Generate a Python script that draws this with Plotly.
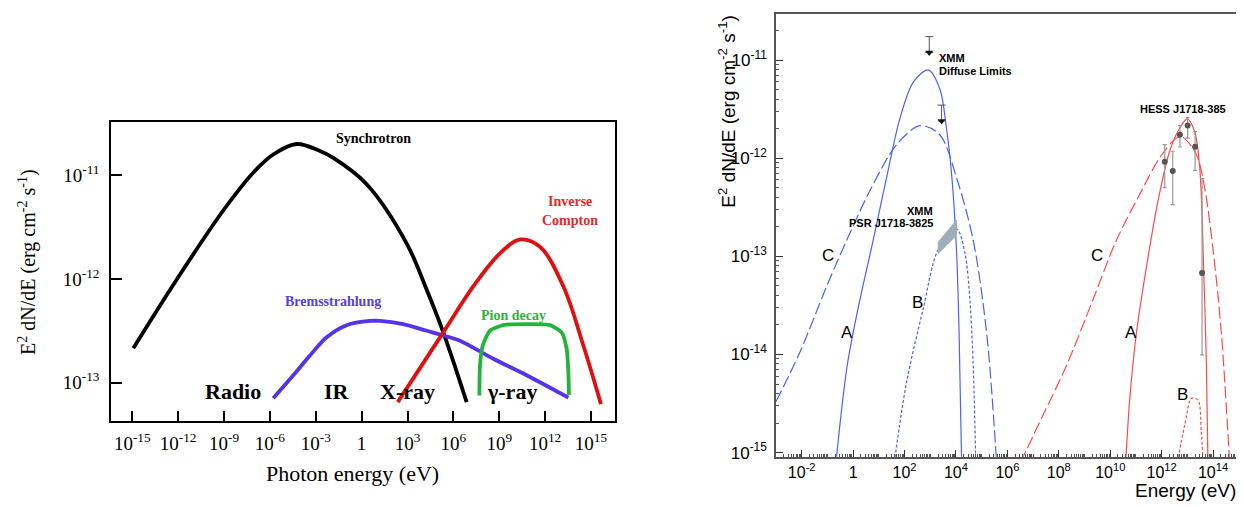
import numpy as np
import plotly.graph_objects as go

# ---------------- Left panel data (log10 E [eV], log10 E^2 dN/dE) ----------------
sync_logE = [-14.93, -12.10, -9.05, -7.09, -5.78, -4.25, -2.72, -1.85, 0.33, 2.95, 4.25, 5.34, 6.22, 6.87]
sync_logF = [-12.667, -12.008, -11.342, -10.978, -10.803, -10.702, -10.77, -10.836, -11.089, -11.66, -12.103, -12.515, -12.895, -13.187]

brems_logE = [-5.78, -4.47, -3.38, -2.29, -0.98, 0.55, 1.20, 2.72, 4.25, 5.24, 6.43, 8.61, 10.79, 13.52]
brems_logF = [-13.149, -12.928, -12.738, -12.563, -12.446, -12.405, -12.405, -12.436, -12.500, -12.541, -12.595, -12.769, -12.928, -13.143]

ic_logE = [2.36, 5.34, 7.30, 9.05, 10.36, 11.66, 13.19, 14.50, 15.65]
ic_logF = [-13.187, -12.515, -12.072, -11.754, -11.621, -11.691, -12.072, -12.642, -13.206]

pion_logE = [7.70, 7.74, 7.92, 8.39, 9.26, 10.79, 12.32, 13.08, 13.41, 13.52, 13.56]
pion_logF = [-13.124, -12.833, -12.642, -12.50, -12.446, -12.436, -12.446, -12.515, -12.674, -12.895, -13.118]

left_xtick_exp = [-15, -12, -9, -6, -3, 0, 3, 6, 9, 12, 15]
left_ytick_exp = [-13, -12, -11]

# ---------------- Right panel data ----------------
blueA_logE = [-0.668, -0.23, 0.265, 0.78, 1.30, 1.82, 2.34, 2.92, 3.37, 3.63, 3.83, 4.02, 4.12, 4.22]
blueA_logF = [-15.1, -14.112, -13.44, -12.836, -12.198, -11.594, -11.225, -11.10, -11.292, -11.695, -12.164, -12.937, -13.776, -15.1]

blueC_logE = [-3.0, -2.07, -1.03, -0.25, 0.65, 1.69, 2.60, 3.37, 4.02, 4.67, 5.19, 5.58]
blueC_logF = [-14.48, -13.977, -13.306, -12.836, -12.332, -11.862, -11.668, -11.761, -12.198, -12.836, -13.776, -15.1]

blueB_logE = [1.60, 2.08, 2.72, 3.31, 4.02, 4.35, 4.54, 4.67, 4.77]
blueB_logF = [-15.1, -14.279, -13.541, -12.93, -12.72, -12.97, -13.44, -14.112, -15.1]

bowtie_logE = [3.31, 4.02, 4.02, 3.31, 3.31]
bowtie_logF = [-12.97, -12.785, -12.634, -12.853, -12.97]

redA_logE = [10.60, 10.76, 11.02, 11.41, 11.86, 12.31, 12.70, 12.99, 13.28, 13.48, 13.63, 13.74, 13.80]
redA_logF = [-15.1, -14.447, -13.776, -13.105, -12.433, -11.929, -11.695, -11.60, -11.728, -12.098, -13.105, -14.112, -15.1]

redC_logE = [6.51, 7.39, 8.30, 9.33, 10.24, 11.15, 11.92, 12.57, 12.83, 13.35, 13.67, 14.0, 14.32, 14.64]
redC_logF = [-15.1, -14.615, -14.112, -13.44, -12.836, -12.366, -11.997, -11.796, -11.789, -11.963, -12.299, -12.937, -13.776, -15.1]

redB_logE = [12.61, 12.90, 13.16, 13.41, 13.54, 13.61]
redB_logF = [-15.1, -14.716, -14.447, -14.464, -14.782, -15.1]

hess_logE = [12.12, 12.43, 12.71, 13.01, 13.30, 13.57]
hess_logF = [-12.037, -12.131, -11.761, -11.668, -11.883, -13.171]
hess_logHi = [-11.862, -11.929, -11.668, -11.587, -11.728, -12.208]
hess_logLo = [-12.299, -12.473, -11.886, -11.796, -12.124, -14.004]

ul_logE = [2.96, 3.44]
ul_logTip = [-10.922, -11.620]
ul_logBar = [-10.761, -11.459]

right_xtick_exp = [-2, 0, 2, 4, 6, 8, 10, 12, 14]
right_ytick_exp = [-15, -14, -13, -12, -11]

# ---------------- helpers ----------------
OFFX, OFFY = 8, 5              # page body margin compensation
W, H = 1244 - 8, 507 - 8       # figure size so that the page fits the window
def p(v):
    return 10 ** np.array(v, dtype=float)
def fx(px):
    return (px - OFFX) / W
def fy(py):
    return 1 - (py - OFFY) / H
def exp_label(e):
    return "1" if e == 0 else f"10<sup>{e}</sup>"

SERIF = "Liberation Serif"
SANS = "Liberation Sans"

fig = go.Figure()

# Left panel traces
left_lines = [(sync_logE, sync_logF, "#000000", 1.0),
              (brems_logE, brems_logF, "#5533e6", 0.8),
              (ic_logE, ic_logF, "#e01010", 1.0),
              (pion_logE, pion_logF, "#22b43a", 0.6)]
for xs, ys, col, sm in left_lines:
    fig.add_trace(go.Scatter(x=p(xs), y=p(ys), mode="lines",
                             line=dict(color=col, width=3.8, shape="spline", smoothing=sm),
                             xaxis="x", yaxis="y", showlegend=False, hoverinfo="skip"))

# Right panel traces
BLUE = "#4a62f0"
RED = "#ff4a4a"
right_lines = [
    (blueC_logE, blueC_logF, BLUE, "12px,4px"),
    (blueA_logE, blueA_logF, BLUE, "solid"),
    (blueB_logE, blueB_logF, BLUE, "3px,2px"),
    (redC_logE, redC_logF, RED, "12px,4px"),
    (redA_logE, redA_logF, RED, "solid"),
    (redB_logE, redB_logF, RED, "3px,2px"),
]
for xs, ys, col, dash in right_lines:
    fig.add_trace(go.Scatter(x=p(xs), y=p(ys), mode="lines",
                             line=dict(color=col, width=1.2, dash=dash, shape="spline", smoothing=0.9),
                             xaxis="x2", yaxis="y2", showlegend=False, hoverinfo="skip"))

# bowtie
fig.add_trace(go.Scatter(x=p(bowtie_logE), y=p(bowtie_logF), mode="lines", fill="toself",
                         fillcolor="#9fadb8", line=dict(color="#9fadb8", width=1),
                         xaxis="x2", yaxis="y2", showlegend=False, hoverinfo="skip"))

# HESS points
hy = p(hess_logF)
fig.add_trace(go.Scatter(x=p(hess_logE), y=hy, mode="markers",
                         marker=dict(color="#555555", size=6),
                         error_y=dict(type="data", symmetric=False,
                                      array=p(hess_logHi) - hy, arrayminus=hy - p(hess_logLo),
                                      color="#999999", thickness=1.2, width=2),
                         xaxis="x2", yaxis="y2", showlegend=False, hoverinfo="skip"))

# XMM upper limits
ut = p(ul_logTip)
fig.add_trace(go.Scatter(x=p(ul_logE), y=ut, mode="markers",
                         marker=dict(color="#111111", size=7, symbol="triangle-down"),
                         error_y=dict(type="data", symmetric=False,
                                      array=p(ul_logBar) - ut, arrayminus=[0, 0],
                                      color="#555555", thickness=1, width=4),
                         xaxis="x2", yaxis="y2", showlegend=False, hoverinfo="skip"))

# ---------------- annotations ----------------
ann = []
def A(text, x, y, size, color="#000", family=SERIF, xanchor="center", yanchor="middle", angle=0):
    ann.append(dict(text=text, x=fx(x), y=fy(y), xref="paper", yref="paper", showarrow=False,
                    font=dict(size=size, color=color, family=family),
                    xanchor=xanchor, yanchor=yanchor, textangle=angle))

# left
A("<b>Synchrotron</b>", 373, 137, 14)
A("<b>Inverse</b>", 570, 201, 14, "#e02a2a")
A("<b>Compton</b>", 570, 220, 14, "#e02a2a")
A("<b>Bremsstrahlung</b>", 333, 302, 14, "#5540e6")
A("<b>Pion decay</b>", 513, 316, 14, "#2db43a")
A("<b>Radio</b>", 233, 393, 22)
A("<b>IR</b>", 337, 393, 22)
A("<b>X-ray</b>", 407, 393, 22)
A("<b>γ-ray</b>", 512, 393, 22)
A("E<sup>2</sup> dN/dE (erg cm<sup>-2</sup> s<sup>-1</sup>)", 28, 262, 20, angle=-90)
A("Photon energy (eV)", 352, 476, 22)

# right
A("C", 828, 256, 17, family=SANS)
A("A", 847, 333, 17, family=SANS)
A("B", 917, 303, 17, family=SANS)
A("C", 1097, 256, 17, family=SANS)
A("A", 1131, 333, 17, family=SANS)
A("B", 1182, 396, 17, family=SANS)
A("<b>XMM</b>", 935, 210, 11, family=SANS, xanchor="right")
A("<b>PSR J1718-3825</b>", 935, 223, 11, family=SANS, xanchor="right")
A("<b>XMM</b>", 937, 56, 11, family=SANS, xanchor="left")
A("<b>Diffuse Limits</b>", 937, 69, 11, family=SANS, xanchor="left")
A("<b>HESS J1718-385</b>", 1183, 107, 11, family=SANS)
A("E<sup>2</sup> dN/dE (erg cm<sup>-2</sup> s<sup>-1</sup>)", 727, 110, 19, family=SANS, angle=-90)
A("Energy (eV)", 1238, 493, 19, family=SANS, xanchor="right")

fig.update_layout(
    width=W, height=H, margin=dict(l=0, r=0, t=0, b=0),
    paper_bgcolor="white", plot_bgcolor="white",
    font=dict(family=SERIF, color="#000"),
    annotations=ann,
    xaxis=dict(type="log", domain=[fx(111), fx(615)], range=[-16.39, 16.57],
               tickvals=p(left_xtick_exp), ticktext=[exp_label(e) for e in left_xtick_exp],
               ticks="inside", ticklen=11, tickwidth=1.5, tickcolor="#000",
               showline=True, linecolor="#000", linewidth=1.5, mirror=True,
               showgrid=False, zeroline=False, anchor="y",
               tickfont=dict(family=SERIF, size=19, color="#000"), ticklabelstandoff=4),
    yaxis=dict(type="log", domain=[fy(423.3), fy(120.7)], range=[-13.371, -10.493],
               tickvals=p(left_ytick_exp), ticktext=[exp_label(e) for e in left_ytick_exp],
               ticks="inside", ticklen=11, tickwidth=1.5, tickcolor="#000",
               showline=True, linecolor="#000", linewidth=1.5, mirror=True,
               showgrid=False, zeroline=False, anchor="x",
               tickfont=dict(family=SERIF, size=19, color="#000"), ticklabelstandoff=6),
    xaxis2=dict(type="log", domain=[fx(776), fx(1238.3)], range=[-3.0, 14.98],
                tickvals=p(right_xtick_exp), ticktext=[exp_label(e) for e in right_xtick_exp],
                ticks="inside", ticklen=7, tickwidth=1, tickcolor="#333",
                minor=dict(dtick="D1", ticks="inside", ticklen=3, tickcolor="#555", tickwidth=1),
                showline=True, linecolor="#555", linewidth=1.5, mirror=True,
                showgrid=False, zeroline=False, anchor="y2",
                tickfont=dict(family=SANS, size=16, color="#000"), ticklabelstandoff=0),
    yaxis2=dict(type="log", domain=[fy(459.3), fy(11)], range=[-15.043, -10.53],
                tickvals=p(right_ytick_exp), ticktext=[exp_label(e) for e in right_ytick_exp],
                ticks="inside", ticklen=7, tickwidth=1, tickcolor="#333",
                minor=dict(dtick="D1", ticks="inside", ticklen=3, tickcolor="#555", tickwidth=1),
                showline=True, linecolor="#555", linewidth=1.5, mirror=True,
                showgrid=False, zeroline=False, anchor="x2",
                tickfont=dict(family=SANS, size=17, color="#000"), ticklabelstandoff=4),
)

fig.write_html("out.html")
